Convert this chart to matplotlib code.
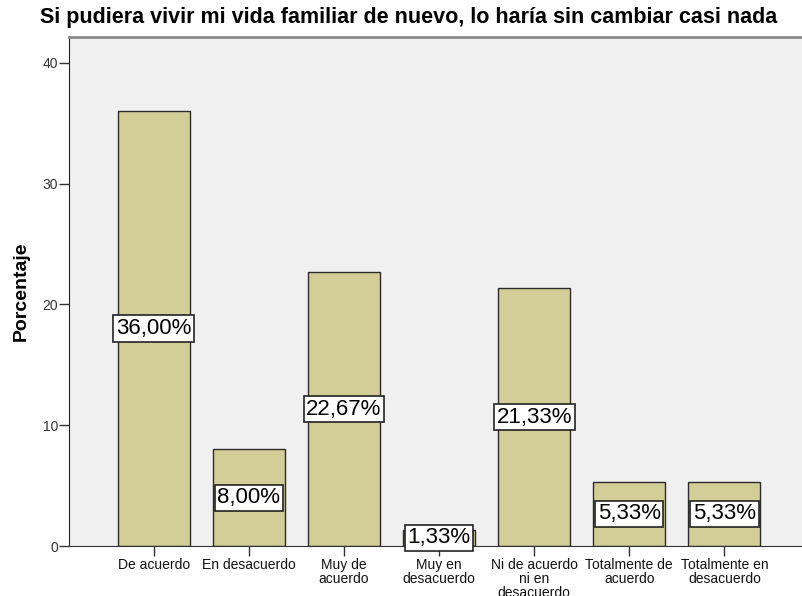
import matplotlib
matplotlib.use("Agg")
import matplotlib.pyplot as plt

title = "Si pudiera vivir mi vida familiar de nuevo, lo haría sin cambiar casi nada"
categories = ["De acuerdo", "En desacuerdo", "Muy de\nacuerdo", "Muy en\ndesacuerdo",
              "Ni de acuerdo\nni en\ndesacuerdo", "Totalmente de\nacuerdo", "Totalmente en\ndesacuerdo"]
values = [36.00, 8.00, 22.67, 1.33, 21.33, 5.33, 5.33]
labels = ["36,00%", "8,00%", "22,67%", "1,33%", "21,33%", "5,33%", "5,33%"]
yticks = [0, 10, 20, 30, 40]

plt.rcParams['font.family'] = ['Liberation Sans', 'DejaVu Sans']

fig = plt.figure(figsize=(8.02, 5.96), dpi=100)
fig.patch.set_facecolor("white")
ax = fig.add_axes([69/802, 50/596, 1 - 69/802 + 0.01, (546-37)/596])
ax.set_facecolor("#F0F0F0")

x = list(range(len(categories)))
ax.bar(x, values, width=0.755, color="#D3CE97", edgecolor="#2b2b2b", linewidth=1.0, zorder=2)

for xi, v, lab in zip(x, values, labels):
    ax.text(xi, v / 2, lab, ha="center", va="center", fontsize=16, color="black", zorder=4,
            bbox=dict(boxstyle="square,pad=0.12", facecolor="white", edgecolor="#222222", linewidth=1.2))

ax.set_xlim(-0.89, 6.9)
ax.set_ylim(0, 42.15)
ax.set_yticks(yticks)
ax.set_yticklabels([str(t) for t in yticks], fontsize=10, color="#333333")
ax.set_xticks(x)
ax.set_xticklabels(categories, fontsize=10, color="#111111", linespacing=1.0)
ax.tick_params(axis="y", direction="out", length=7, width=1, color="#333333", pad=1)
ax.tick_params(axis="x", direction="out", length=7, width=1, color="#333333", pad=1.5)

ax.spines["right"].set_visible(False)
ax.spines["left"].set_color("#222222")
ax.spines["bottom"].set_color("#333333")
ax.spines["top"].set_color("#8a8a8a")
ax.spines["top"].set_linewidth(2.0)

ax.set_ylabel("Porcentaje", fontsize=14, fontweight="bold", labelpad=9)
fig.text(409/802, 1 - 17/596, title, ha="center", va="center", fontsize=15.5, fontweight="bold")

fig.savefig("out.png", dpi=100, facecolor="white")
